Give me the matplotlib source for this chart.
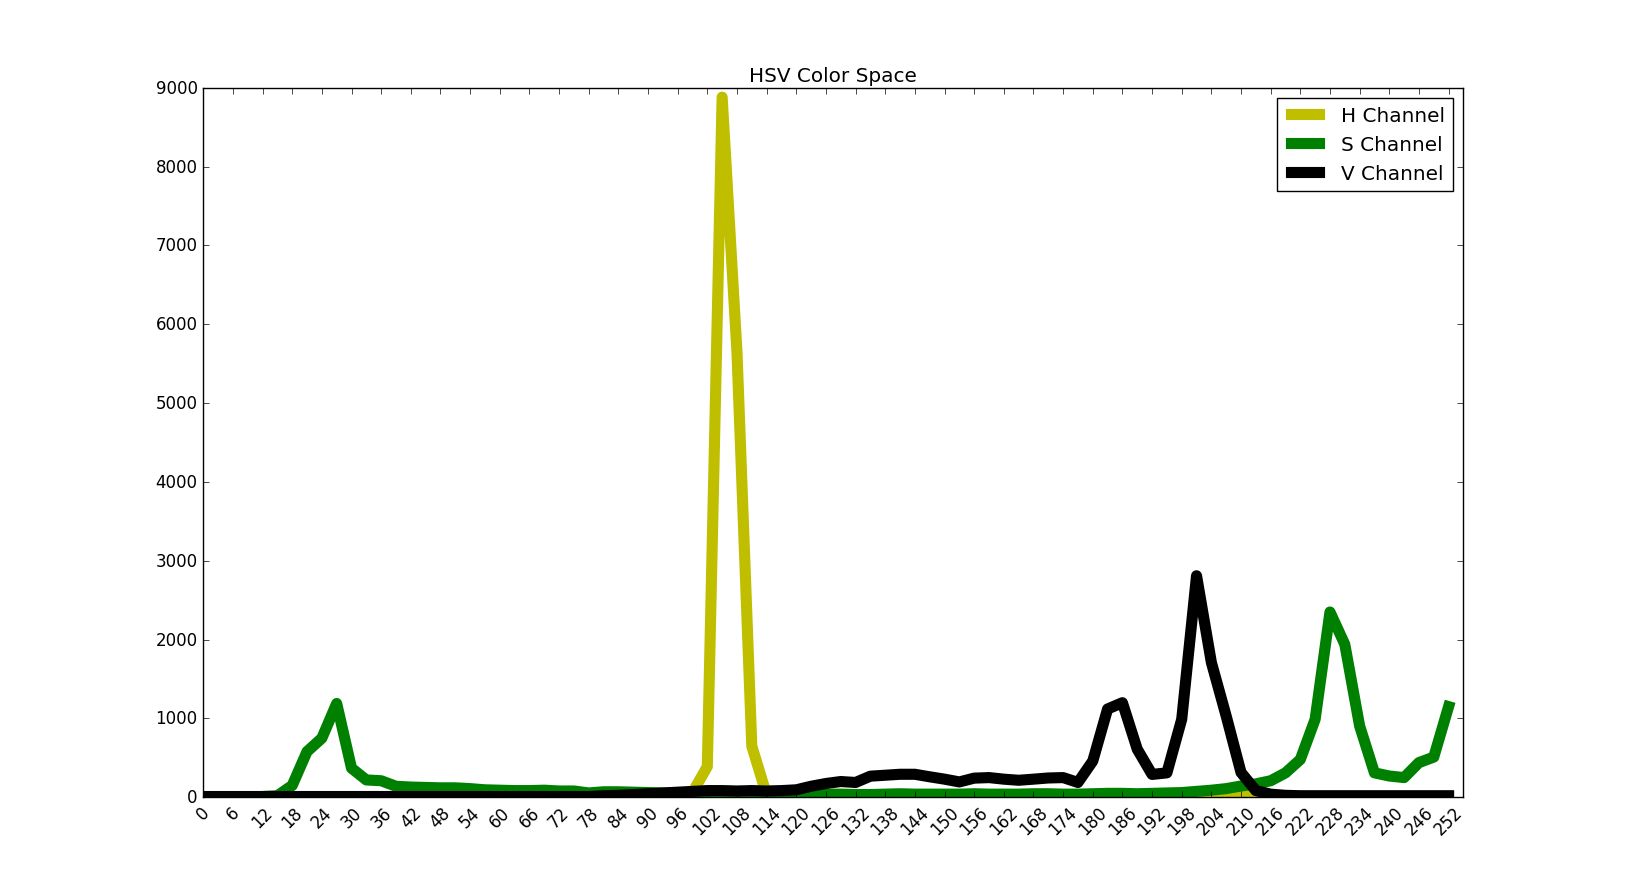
import numpy as np
import matplotlib
matplotlib.use("Agg")
import matplotlib.pyplot as plt

plt.style.use('classic')

# histogram bins (step 3) and counts per channel
bins = list(range(0, 253, 3))

h_hist = [0, 0, 0, 0, 0, 0, 0, 0, 0, 0,
          0, 0, 0, 0, 0, 0, 0, 0, 0, 0,
          0, 0, 0, 0, 0, 0, 0, 0, 0, 0,
          0, 0, 10, 60, 390, 8880, 5650, 650, 30, 5,
          5, 5, 5, 5, 5, 5, 5, 5, 5, 5,
          5, 5, 5, 5, 5, 5, 5, 5, 5, 5,
          5, 5, 5, 5, 5, 5, 5, 5, 5, 15,
          50, 40, 10, 5, 5, 5, 5, 5, 5, 5,
          5, 5, 5, 5, 5]

s_hist = [0, 0, 0, 0, 10, 20, 150, 580, 750, 1190,
          370, 220, 210, 140, 130, 125, 120, 120, 110, 95,
          90, 85, 85, 90, 80, 80, 55, 70, 70, 65,
          60, 55, 50, 45, 45, 40, 40, 40, 35, 35,
          40, 40, 40, 40, 35, 35, 40, 45, 40, 40,
          40, 40, 45, 40, 40, 40, 45, 45, 40, 40,
          45, 50, 50, 45, 50, 55, 60, 75, 90, 110,
          143, 170, 210, 310, 480, 990, 2350, 1940, 905, 310,
          270, 250, 440, 510, 1150]

v_hist = [10, 10, 10, 10, 10, 10, 10, 10, 10, 10,
          10, 10, 10, 10, 10, 10, 10, 10, 10, 10,
          10, 10, 10, 10, 10, 10, 10, 20, 25, 35,
          45, 55, 65, 75, 85, 85, 80, 85, 80, 85,
          95, 140, 175, 200, 188, 268, 280, 292, 292, 260,
          230, 195, 243, 250, 230, 216, 230, 245, 250, 188,
          460, 1120, 1200, 610, 290, 310, 990, 2810, 1710, 1030,
          315, 85, 40, 25, 20, 20, 20, 20, 20, 20,
          20, 20, 20, 20, 20]

fig = plt.figure(figsize=(16.26, 8.87), dpi=100)
plt.plot(bins, h_hist, color='y', linewidth=8, label='H Channel')
plt.plot(bins, s_hist, color='g', linewidth=8, label='S Channel')
plt.plot(bins, v_hist, color='k', linewidth=8, label='V Channel')
plt.title("HSV Color Space")
plt.xticks(np.arange(0, 256, 6), rotation=45)
plt.xlim(0, 255)
plt.ylim(0, 9000)
plt.legend(loc='upper right')
plt.savefig("out.png", dpi=100, facecolor='white')
